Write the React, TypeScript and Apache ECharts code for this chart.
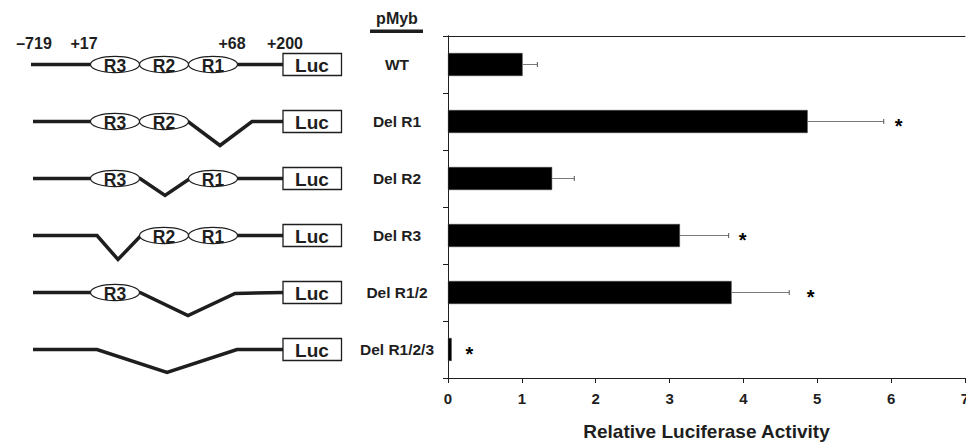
import React, { useEffect, useRef } from "react";
import * as echarts from "echarts";

const categories = ["WT", "Del R1", "Del R2", "Del R3", "Del R1/2", "Del R1/2/3"];
const activity = [1.01, 4.87, 1.41, 3.14, 3.84, 0.05];
const sem = [0.2, 1.03, 0.3, 0.66, 0.78, 0];
const starPos: (number | null)[] = [null, 6.1, null, 3.99, 4.91, 0.29];
const regionsKept = [["R3", "R2", "R1"], ["R3", "R2"], ["R3", "R1"], ["R2", "R1"], ["R3"], []];
const siteLabels = ["\u2013719", "+17", "+68", "+200"];
const headerTitle = "pMyb";
const xTitle = "Relative Luciferase Activity";

const FONT = "'Liberation Sans', Arial, Helvetica, sans-serif";
const INK = "#1e1e1e";

// diagram layout (px)
const regionX: Record<string, number> = { R3: 115, R2: 164, R1: 213 };
const rowLines: number[][][] = [
  [[31, 0], [283, 0]],
  [[33, 0], [188, 0], [220, 24], [252, 0], [283, 0]],
  [[33, 0], [140, 0], [165, 17], [190, 0], [283, 0]],
  [[33, 0], [97, 0], [118, 24], [141, 0], [283, 0]],
  [[33, 0], [140, 0], [188, 23], [235, 1], [283, 0]],
  [[33, 0], [97, 0], [167, 23], [237, 0], [283, 0]],
];
const siteX = [34, 84, 232, 285];

export default function App() {
  const ref = useRef<HTMLDivElement>(null);
  useEffect(() => {
    document.body.style.margin = "0";
    const chart = echarts.init(ref.current!, null, { renderer: "svg" });
    const option: any = {
      animation: false,
      grid: { left: 448, right: 1, top: 36, bottom: 64, containLabel: false, outerBoundsMode: "none" },
      xAxis: [
        {
          type: "value",
          min: 0,
          max: 7,
          interval: 1,
          position: "bottom",
          splitLine: { show: false },
          axisLine: { show: true, lineStyle: { color: INK, width: 1 } },
          axisTick: { show: true, length: 5, lineStyle: { color: INK } },
          axisLabel: { fontFamily: FONT, fontWeight: "bold", fontSize: 15, color: INK, margin: 13 },
          name: xTitle,
          nameLocation: "middle",
          nameGap: 44,
          nameTextStyle: { fontFamily: FONT, fontWeight: "bold", fontSize: 19, color: INK },
        },
        {
          type: "value",
          min: 0,
          max: 7,
          position: "top",
          splitLine: { show: false },
          axisLine: { show: true, lineStyle: { color: INK, width: 1 } },
          axisTick: { show: false },
          axisLabel: { show: false },
        },
      ],
      yAxis: [
        {
          type: "category",
          data: categories,
          inverse: true,
          axisLine: { show: true, lineStyle: { color: INK, width: 1 } },
          axisTick: { show: true, length: 5, lineStyle: { color: INK } },
          axisLabel: { fontFamily: FONT, fontWeight: "bold", fontSize: 15.5, color: INK, align: "center", margin: 51 },
        },
        {
          type: "category",
          data: categories,
          inverse: true,
          position: "right",
          axisLine: { show: true, lineStyle: { color: INK, width: 1 } },
          axisTick: { show: false },
          axisLabel: { show: false },
        },
      ],
      series: [
        {
          type: "bar",
          data: activity,
          barWidth: 23,
          itemStyle: { color: "#000", borderColor: "#444", borderWidth: 0.5 },
          z: 2,
        },
        {
          type: "custom",
          data: activity.map((m, i) => [m, sem[i], i]),
          z: 3,
          renderItem: (params: any, api: any) => {
            const m = api.value(0);
            const e = api.value(1);
            const i = api.value(2);
            if (!e) return null;
            const p0 = api.coord([m, i]);
            const p1 = api.coord([m + e, i]);
            return {
              type: "group",
              children: [
                { type: "line", shape: { x1: p0[0], y1: p0[1], x2: p1[0], y2: p1[1] }, style: { stroke: "#7a7a7a", lineWidth: 1 } },
                { type: "line", shape: { x1: p1[0], y1: p1[1] - 2.5, x2: p1[0], y2: p1[1] + 2.5 }, style: { stroke: "#555", lineWidth: 1 } },
              ],
            };
          },
        },
        {
          type: "custom",
          data: starPos.map((s, i) => [s, i]).filter((d) => d[0] !== null),
          z: 4,
          renderItem: (params: any, api: any) => {
            const p = api.coord([api.value(0), api.value(1)]);
            return {
              type: "text",
              style: {
                text: "*",
                x: p[0],
                y: p[1] + 4,
                fontFamily: FONT,
                fontWeight: "bold",
                fontSize: 20,
                fill: "#000",
                align: "center",
                verticalAlign: "middle",
              },
            };
          },
        },
      ],
    };
    chart.setOption(option);

    const rowY = categories.map((c) => chart.convertToPixel({ yAxisIndex: 0 }, c) as number);
    const g: any[] = [];
    g.push({
      type: "text",
      style: { text: headerTitle, x: 397, y: 18, fontFamily: FONT, fontWeight: "bold", fontSize: 16, fill: INK, align: "center", verticalAlign: "middle" },
    });
    g.push({ type: "rect", shape: { x: 370, y: 29.5, width: 53, height: 3.5 }, style: { fill: INK } });
    siteLabels.forEach((t, k) => {
      g.push({
        type: "text",
        style: { text: t, x: siteX[k], y: 43, fontFamily: FONT, fontWeight: "bold", fontSize: 16, fill: INK, align: "center", verticalAlign: "middle" },
      });
    });
    rowY.forEach((y, i) => {
      g.push({
        type: "polyline",
        shape: { points: rowLines[i].map((p) => [p[0], y + p[1]]) },
        style: { stroke: INK, lineWidth: 3.5, fill: null, lineJoin: "miter" },
        z: 1,
      });
      regionsKept[i].forEach((r) => {
        g.push({
          type: "ellipse",
          shape: { cx: regionX[r], cy: y, rx: 24.5, ry: 8.2 },
          style: { fill: "#fff", stroke: INK, lineWidth: 1.2 },
          z: 2,
        });
        g.push({
          type: "text",
          style: { text: r, x: regionX[r], y: y + 1, fontFamily: FONT, fontWeight: "bold", fontSize: 17.5, fill: INK, align: "center", verticalAlign: "middle" },
          z: 3,
        });
      });
      g.push({
        type: "rect",
        shape: { x: 283, y: y - 11, width: 58.5, height: 22 },
        style: { fill: "#fff", stroke: INK, lineWidth: 1.3 },
        z: 2,
      });
      g.push({
        type: "text",
        style: { text: "Luc", x: 312, y: y + 1, fontFamily: FONT, fontWeight: "bold", fontSize: 19, fill: INK, align: "center", verticalAlign: "middle" },
        z: 3,
      });
    });
    chart.setOption({ graphic: g });

    return () => chart.dispose();
  }, []);
  return <div ref={ref} style={{ width: 966, height: 442 }} />;
}
